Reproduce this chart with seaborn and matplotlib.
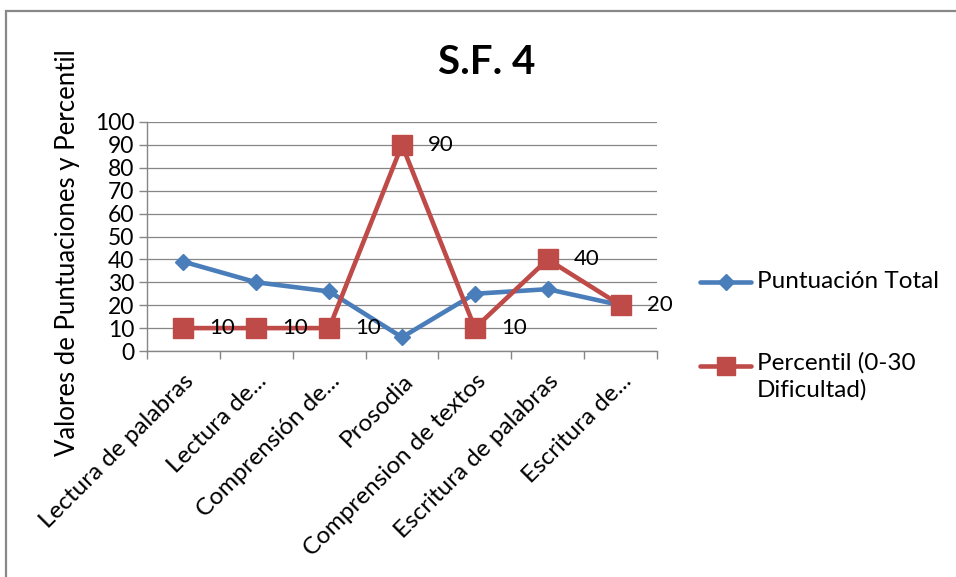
import matplotlib
matplotlib.use("Agg")
import matplotlib.pyplot as plt
from matplotlib.lines import Line2D
from matplotlib.patches import Rectangle
import seaborn as sns
import pandas as pd
import numpy as np

# Reading / writing skills profile
categories = [
    "Lectura de palabras",
    "Lectura de...",
    "Comprensión de...",
    "Prosodia",
    "Comprension de textos",
    "Escritura de palabras",
    "Escritura de...",
]
puntuacion_total = [39, 30, 26, 6, 25, 27, 20]
percentil = [10, 10, 10, 90, 10, 40, 20]
series_names = ["Puntuación Total", "Percentil (0-30\nDificultad)"]
y_ticks = list(range(0, 101, 10))

BLUE = "#4A7EBB"
RED = "#BE4B48"
GRID = "#868686"

sns.set_theme(style="white")
plt.rcParams["font.family"] = ["Lato", "DejaVu Sans"]
plt.rcParams.update({
    "text.color": "black",
    "axes.labelcolor": "black",
    "xtick.color": "black",
    "ytick.color": "black",
})

df = pd.DataFrame({
    "pos": list(range(len(categories))) * 2,
    "valor": puntuacion_total + percentil,
    "serie": [series_names[0]] * len(categories) + [series_names[1]] * len(categories),
})

fig = plt.figure(figsize=(9.56, 5.77), dpi=100)
ax = fig.add_axes([147 / 956, 1 - 351 / 577, 510 / 956, 229 / 577])

sns.lineplot(
    data=df, x="pos", y="valor", hue="serie",
    palette=[BLUE, RED], linewidth=3.3, legend=False, ax=ax, zorder=3,
)
# markers drawn separately so their sizes can differ per series
ax.plot(range(len(categories)), puntuacion_total, linestyle="none", marker="D",
        markersize=8.2, color=BLUE, markeredgecolor=BLUE, zorder=4)
ax.plot(range(len(categories)), percentil, linestyle="none", marker="s",
        markersize=13.8, color=RED, markeredgecolor=RED, zorder=5)

# data labels for the percentile series
for i, v in enumerate(percentil):
    ax.annotate(str(v), (i, v), xytext=(26, 0), textcoords="offset pixels",
                ha="left", va="center", fontsize=16, color="black", zorder=6)

ax.set_xlim(-0.5, len(categories) - 0.5)
ax.set_ylim(0, 100)
ax.set_yticks(y_ticks)
ax.set_yticklabels([str(t) for t in y_ticks], fontsize=16.5)
ax.yaxis.grid(True, color=GRID, linewidth=0.9)
ax.xaxis.grid(False)

# category boundaries carry the tick marks, centres carry the labels
ax.set_xticks(np.arange(-0.5, len(categories), 1.0))
ax.set_xticklabels([])
ax.set_xticks(range(len(categories)), minor=True)
ax.set_xticklabels(categories, minor=True, rotation=45, ha="right", va="top",
                   rotation_mode="anchor", fontsize=17.5)
ax.tick_params(axis="x", which="major", length=6, width=1, color=GRID, direction="out", bottom=True)
ax.tick_params(axis="x", which="minor", length=0, pad=14)
ax.tick_params(axis="y", which="major", length=6, width=1, color=GRID, direction="out", left=True, pad=3)

for side in ["top", "right"]:
    ax.spines[side].set_visible(False)
for side in ["left", "bottom"]:
    ax.spines[side].set_color(GRID)
    ax.spines[side].set_linewidth(1)

ax.set_xlabel("")
ax.set_ylabel("Valores de Puntuaciones y Percentil", fontsize=18.5)
ax.yaxis.set_label_coords((68 - 147) / 510, (351 - 253) / 229, transform=ax.transAxes)
ax.yaxis.label.set_verticalalignment("center")

fig.text(487 / 956, 1 - 62 / 577, "S.F. 4", ha="center", va="center",
         fontsize=29, fontweight="bold", color="black")

# legend on the right
leg_entries = [
    (282, BLUE, "D", 8.2),
    (366, RED, "s", 13.0),
]
for ypx, col, mk, ms in leg_entries:
    yf = 1 - ypx / 577
    fig.add_artist(Line2D([700 / 956, 751 / 956], [yf, yf], color=col, linewidth=3.3,
                          solid_capstyle="round", transform=fig.transFigure))
    fig.add_artist(Line2D([725.5 / 956], [yf], color=col, marker=mk, markersize=ms,
                          transform=fig.transFigure))

fig.text(757 / 956, 1 - 282 / 577, series_names[0], ha="left", va="center", fontsize=17.5)
fig.text(757 / 956, 1 - 352 / 577, series_names[1], ha="left", va="top", fontsize=17.5,
         linespacing=1.3)

# chart frame
fig.add_artist(Rectangle((6 / 956, -0.05), 1.1, 1 - 11 / 577 + 0.05, fill=False,
                         edgecolor="#888888", linewidth=1.6, transform=fig.transFigure))

fig.savefig("out.png", dpi=100)
